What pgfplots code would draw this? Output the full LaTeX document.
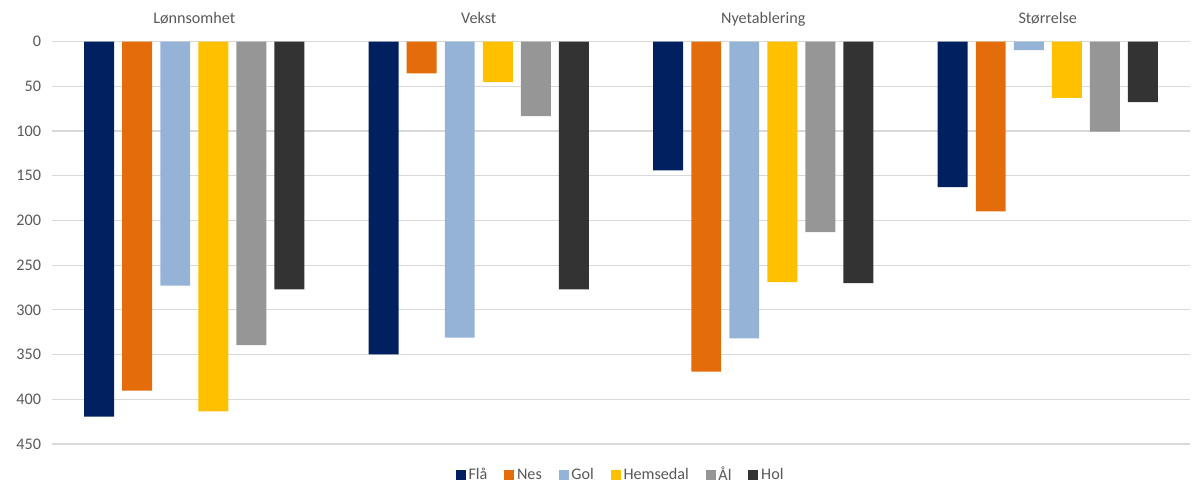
\documentclass[border=0pt]{standalone}
\usepackage{pgfplots}
\pgfplotsset{compat=1.18}
\usepackage{fontspec}
\setmainfont{Carlito}
\definecolor{cFla}{HTML}{002060}
\definecolor{cNes}{HTML}{E46C0A}
\definecolor{cGol}{HTML}{95B3D7}
\definecolor{cHem}{HTML}{FFC000}
\definecolor{cAal}{HTML}{969696}
\definecolor{cHol}{HTML}{333333}
\definecolor{txt}{HTML}{595959}
\definecolor{gridc}{HTML}{D9D9D9}

\begin{document}
\begin{tikzpicture}
\begin{axis}[
    scale only axis,
    width=284.5mm, height=100.6mm,
    ybar, bar width=0.1054,
    xmin=-0.5, xmax=3.5,
    ymin=0, ymax=450,
    y dir=reverse,
    xtick={0,1,2,3},
    xticklabels={Lønnsomhet, Vekst, Nyetablering, Størrelse},
    xticklabel pos=upper,
    xticklabel style={anchor=base, yshift=2.9mm},
    ytick={0,50,...,450},
    ymajorgrids,
    grid style={gridc, line width=0.8pt},
    axis line style={draw=none},
    major tick style={draw=none},
    tick label style={font=\fontsize{11.5}{13}\selectfont, text=txt},
    /pgf/number format/assume math mode=true,
    yticklabel style={xshift=-1.5mm},
    legend columns=6,
    legend style={draw=none, at={(0.5,-0.077)}, anchor=center,
        font=\fontsize{11.5}{13}\selectfont, text=txt,
        /tikz/every even column/.append style={column sep=3.5mm}},
    legend image code/.code={\fill[#1] (0mm,-1.25mm) rectangle (2.5mm,1.25mm);},
]
\addplot[fill=cFla, draw=none, bar shift=-0.334] coordinates {(0,419.5) (1,349.8) (2,144) (3,162.7)};
\addplot[fill=cNes, draw=none, bar shift=-0.2004] coordinates {(0,390.4) (1,35.5) (2,369) (3,190)};
\addplot[fill=cGol, draw=none, bar shift=-0.0668] coordinates {(0,273) (1,331) (2,332) (3,9.5)};
\addplot[fill=cHem, draw=none, bar shift=0.0668] coordinates {(0,413.5) (1,45.3) (2,269) (3,62.8)};
\addplot[fill=cAal, draw=none, bar shift=0.2004] coordinates {(0,339.3) (1,83.3) (2,213) (3,100.8)};
\addplot[fill=cHol, draw=none, bar shift=0.334] coordinates {(0,277) (1,277) (2,270) (3,67.6)};
\legend{Flå, Nes, Gol, Hemsedal, Ål, Hol}
\end{axis}
\pgfresetboundingbox
\useasboundingbox ([xshift=-13mm,yshift=-10.5mm]current axis.south west) rectangle ([xshift=0.5mm,yshift=10.4mm]current axis.north east);
\end{tikzpicture}
\end{document}
